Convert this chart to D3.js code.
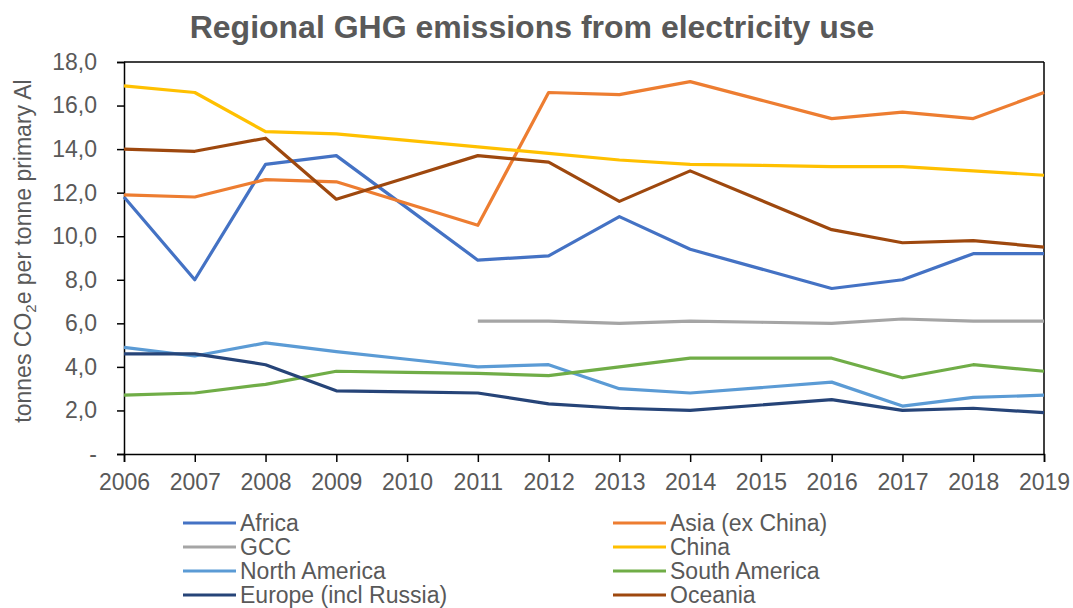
<!DOCTYPE html>
<html>
<head>
<meta charset="utf-8">
<script src="https://cdn.jsdelivr.net/npm/d3@7/dist/d3.min.js"></script>
<style>
  html, body { margin: 0; padding: 0; background: #fff; }
  svg { display: block; font-family: "Liberation Sans", Arial, sans-serif; }
</style>
</head>
<body>
<svg id="chart" width="1073" height="608"></svg>
<script>
const years = [2006, 2007, 2008, 2009, 2010, 2011, 2012, 2013, 2014, 2015, 2016, 2017, 2018, 2019];
const yTicks = [0, 2, 4, 6, 8, 10, 12, 14, 16, 18];

const africa       = [11.8, 8.0, 13.3, 13.7, 11.3, 8.9, 9.1, 10.9, 9.4, 8.5, 7.6, 8.0, 9.2, 9.2];
const asiaExChina  = [11.9, 11.8, 12.6, 12.5, 11.5, 10.5, 16.6, 16.5, 17.1, 16.25, 15.4, 15.7, 15.4, 16.6];
const gcc          = [null, null, null, null, null, 6.1, 6.1, 6.0, 6.1, 6.05, 6.0, 6.2, 6.1, 6.1];
const china        = [16.9, 16.6, 14.8, 14.7, 14.4, 14.1, 13.8, 13.5, 13.3, 13.25, 13.2, 13.2, 13.0, 12.8];
const northAmerica = [4.9, 4.5, 5.1, 4.7, 4.35, 4.0, 4.1, 3.0, 2.8, 3.05, 3.3, 2.2, 2.6, 2.7];
const southAmerica = [2.7, 2.8, 3.2, 3.8, 3.75, 3.7, 3.6, 4.0, 4.4, 4.4, 4.4, 3.5, 4.1, 3.8];
const europe       = [4.6, 4.6, 4.1, 2.9, 2.85, 2.8, 2.3, 2.1, 2.0, 2.25, 2.5, 2.0, 2.1, 1.9];
const oceania      = [14.0, 13.9, 14.5, 11.7, 12.7, 13.7, 13.4, 11.6, 13.0, 11.65, 10.3, 9.7, 9.8, 9.5];

const seriesNames = ["Africa", "Asia (ex China)", "GCC", "China", "North America", "South America", "Europe (incl Russia)", "Oceania"];
const seriesValues = [africa, asiaExChina, gcc, china, northAmerica, southAmerica, europe, oceania];
const seriesColors = ["#4472C4", "#ED7D31", "#A5A5A5", "#FFC000", "#5B9BD5", "#70AD47", "#264478", "#9E480E"];
// legend layout: column 0 = left, column 1 = right
const legendOrder = [[0, 2, 4, 6], [1, 3, 5, 7]];

const textColor = "#595959";
const svg = d3.select("#chart");
const L = 124, R = 1044, T = 62, B = 454;

const x = d3.scalePoint().domain(years).range([L, R]);
const y = d3.scaleLinear().domain([0, 18]).range([B, T]);

// title
svg.append("text")
  .attr("x", 532).attr("y", 38)
  .attr("text-anchor", "middle")
  .attr("font-size", 32).attr("font-weight", "bold")
  .attr("fill", textColor)
  .text("Regional GHG emissions from electricity use");

// frame (top and right)
svg.append("line").attr("x1", L).attr("x2", R).attr("y1", T).attr("y2", T)
  .attr("stroke", "#000").attr("stroke-width", 1.5);
svg.append("line").attr("x1", R).attr("x2", R).attr("y1", T).attr("y2", B)
  .attr("stroke", "#000").attr("stroke-width", 1.5);

// y axis
const yAxis = svg.append("g").attr("transform", `translate(${L},0)`)
  .call(d3.axisLeft(y).tickValues(yTicks).tickSize(7).tickPadding(20)
    .tickFormat(d => d === 0 ? "-" : d3.format(".1f")(d).replace(".", ",")));
yAxis.select(".domain").attr("stroke", "#000").attr("stroke-width", 1.5);
yAxis.selectAll(".tick line").attr("stroke", "#000").attr("stroke-width", 1.5);
yAxis.selectAll(".tick text").attr("font-size", 23).attr("fill", textColor)
  .attr("font-family", "'Liberation Sans', Arial, sans-serif");

// x axis
const xAxis = svg.append("g").attr("transform", `translate(0,${B})`)
  .call(d3.axisBottom(x).tickSize(8).tickPadding(12).tickFormat(d3.format("d")));
xAxis.select(".domain").attr("stroke", "#000").attr("stroke-width", 1.5);
xAxis.selectAll(".tick line").attr("stroke", "#000").attr("stroke-width", 1.5);
xAxis.selectAll(".tick text").attr("font-size", 23).attr("fill", textColor)
  .attr("font-family", "'Liberation Sans', Arial, sans-serif");

// y axis title
const yt = svg.append("text")
  .attr("transform", "translate(31,251) rotate(-90)")
  .attr("text-anchor", "middle")
  .attr("font-size", 23)
  .attr("fill", textColor);
yt.append("tspan").text("tonnes CO");
yt.append("tspan").attr("font-size", 15).attr("dy", 5).text("2");
yt.append("tspan").attr("dy", -5).text("e per tonne primary Al");

// lines
const line = d3.line()
  .defined(d => d.v !== null)
  .x(d => x(d.year))
  .y(d => y(d.v));

seriesValues.forEach((vals, i) => {
  svg.append("path")
    .datum(years.map((yr, j) => ({ year: yr, v: vals[j] })))
    .attr("fill", "none")
    .attr("stroke", seriesColors[i])
    .attr("stroke-width", 3.2)
    .attr("stroke-linejoin", "round")
    .attr("d", line);
});

// legend
const colX = [183, 613];
const rowY = [523, 547, 571, 595];
legendOrder.forEach((col, c) => {
  col.forEach((si, r) => {
    const g = svg.append("g");
    g.append("line")
      .attr("x1", colX[c]).attr("x2", colX[c] + 53)
      .attr("y1", rowY[r]).attr("y2", rowY[r])
      .attr("stroke", seriesColors[si]).attr("stroke-width", 3.2);
    g.append("text")
      .attr("x", colX[c] + 57).attr("y", rowY[r])
      .attr("dy", "0.35em")
      .attr("font-size", 23)
      .attr("fill", textColor)
      .text(seriesNames[si]);
  });
});
</script>
</body>
</html>
